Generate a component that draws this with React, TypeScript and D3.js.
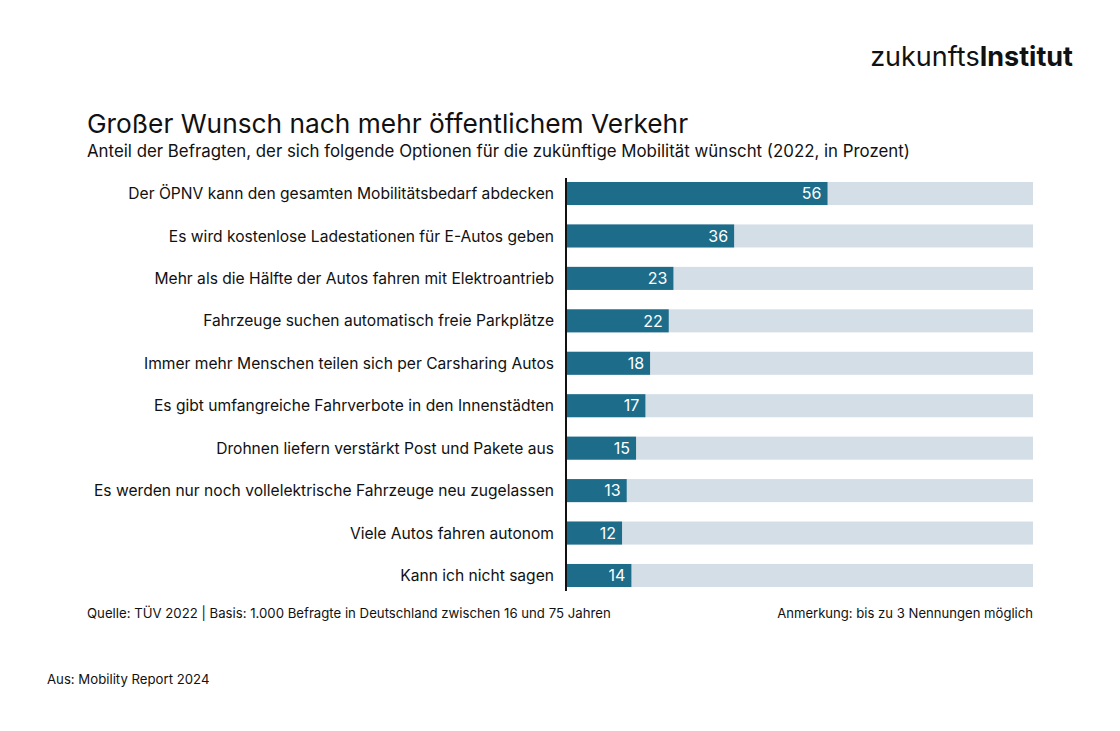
import React from "react";
import * as d3 from "d3";

const categories = [
  "Der ÖPNV kann den gesamten Mobilitätsbedarf abdecken",
  "Es wird kostenlose Ladestationen für E-Autos geben",
  "Mehr als die Hälfte der Autos fahren mit Elektroantrieb",
  "Fahrzeuge suchen automatisch freie Parkplätze",
  "Immer mehr Menschen teilen sich per Carsharing Autos",
  "Es gibt umfangreiche Fahrverbote in den Innenstädten",
  "Drohnen liefern verstärkt Post und Pakete aus",
  "Es werden nur noch vollelektrische Fahrzeuge neu zugelassen",
  "Viele Autos fahren autonom",
  "Kann ich nicht sagen",
];
const values = [56, 36, 23, 22, 18, 17, 15, 13, 12, 14];
const maxValue = 100;

const title = "Großer Wunsch nach mehr öffentlichem Verkehr";
const subtitle =
  "Anteil der Befragten, der sich folgende Optionen für die zukünftige Mobilität wünscht (2022, in Prozent)";
const source = "Quelle: TÜV 2022 | Basis: 1.000 Befragte in Deutschland zwischen 16 und 75 Jahren";
const note = "Anmerkung: bis zu 3 Nennungen möglich";
const origin = "Aus: Mobility Report 2024";

const FONT = "Inter, 'Noto Sans', sans-serif";
const DARK = "#1c6c8a";
const LIGHT = "#d4dee6";

export default function App() {
  const W = 1120;
  const H = 731;
  const x = d3.scaleLinear().domain([0, maxValue]).range([566, 1033]);
  const y = d3
    .scaleBand<string>()
    .domain(categories)
    .range([173.5, 595.5])
    .paddingInner(0.457)
    .paddingOuter(0.2);
  const bw = y.bandwidth();

  return (
    <svg
      width={W}
      height={H}
      style={{ position: "absolute", left: 0, top: 0, background: "#fff" }}
      fontFamily={FONT}
    >
      <rect width={W} height={H} fill="#fff" />
      <text x={1073} y={66} textAnchor="end" fontSize={27} fill="#111">
        <tspan>zukunfts</tspan>
        <tspan fontWeight={700}>Institut</tspan>
      </text>
      <text x={87} y={133} fontSize={26.3} fill="#111">
        {title}
      </text>
      <text x={87} y={157} fontSize={16.85} fill="#111">
        {subtitle}
      </text>
      {categories.map((c, i) => {
        const yy = y(c)!;
        return (
          <g key={c}>
            <rect x={x(0)} y={yy} width={x(maxValue) - x(0)} height={bw} fill={LIGHT} />
            <rect x={x(0)} y={yy} width={x(values[i]) - x(0)} height={bw} fill={DARK} />
            <text
              x={x(values[i]) - 6}
              y={yy + bw / 2}
              dy="0.36em"
              textAnchor="end"
              fontSize={16}
              fill="#fff"
            >
              {values[i]}
            </text>
            <text
              x={554}
              y={yy + bw / 2}
              dy="0.36em"
              textAnchor="end"
              fontSize={15.6}
              fill="#111"
            >
              {c}
            </text>
          </g>
        );
      })}
      <line x1={566} x2={566} y1={178} y2={591} stroke="#111" strokeWidth={2} />
      <text x={87} y={618} fontSize={13.2} fill="#111">
        {source}
      </text>
      <text x={1033} y={618} textAnchor="end" fontSize={13.1} fill="#111">
        {note}
      </text>
      <text x={47} y={684} fontSize={13.2} fill="#111">
        {origin}
      </text>
    </svg>
  );
}
